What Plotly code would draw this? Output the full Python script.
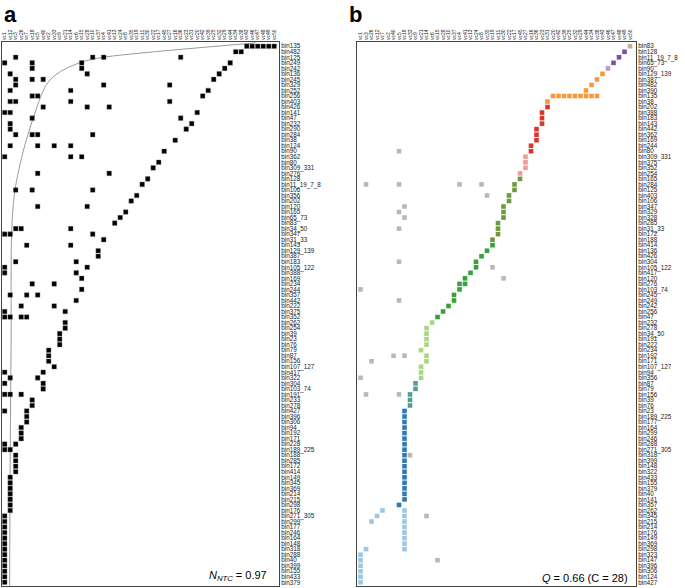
import plotly.graph_objects as go

W, H = 685, 588

# ---------------- data ----------------
rows_a = ["bin135","bin482","bin125","bin249","bin242","bin136","bin245","bin329","bin252","bin256",
          "bin403","bin426","bin141","bin47","bin232","bin290","bin284","bin38","bin124","bin90",
          "bin362","bin80","bin309_331","bin276","bin128","bin11_19_7_8","bin106","bin356","bin202","bin120",
          "bin165","bin65_73","bin83","bin34_50","bin347","bin31_33","bin143","bin129_139","bin387","bin183",
          "bin105_122","bin388","bin169","bin234","bin244","bin357","bin442","bin222","bin375","bin352",
          "bin262","bin254","bin39","bin23","bin76","bin79","bin87","bin156","bin107_127","bin417",
          "bin322","bin304","bin103_74","bin191","bin233","bin278","bin427","bin396","bin306","bin94",
          "bin192","bin171","bin228","bin189_225","bin188","bin285","bin172","bin414","bin149","bin345",
          "bin369","bin214","bin215","bin298","bin176","bin271_305","bin299","bin177","bin246","bin164",
          "bin148","bin318","bin288","bin40","bin399","bin155","bin433","bin379"]

cols_a = ["vc1","vc12","vc3","vc26","vc7","vc18","vc5","vc40","vc2","vc33",
          "vc9","vc21","vc14","vc6","vc15","vc28","vc10","vc37","vc4","vc41",
          "vc13","vc24","vc8","vc35","vc19","vc11","vc30","vc22","vc17","vc45",
          "vc27","vc16","vc36","vc23","vc31","vc20","vc42","vc39","vc25","vc32",
          "vc29","vc44","vc34","vc38","vc43","vc46","vc47","vc48","vc49","vc50"]

# occupied columns (indices into cols_a) for each row of rows_a
occ_a = [[44,45,46,47,48,49],[42,43],[2,16,18,32],[0,5,14,41],[5,14,40],[1,15,39],[2,5,7,38],[2,18,30],
         [1,12,37],[5,6,36],[1,2,12,30],[7,15,19],[0,1,35],[5,32],[1,34],[1,33],[2,5,6,16],[31],
         [1,6,9,12],[29],[0,12,14],[28],[27],[6,19],[26],[25],[2,5,16],[24],[23],[6,15],[22],[21],
         [20],[2,3,12],[0,1,16],[18],[4,12],[17],[17],[2,13],[0,15],[0,13],[14],[5,9],[14],[1,4,6],
         [13],[3,9],[0,11],[0,1,3,4],[11],[11],[10],[10],[10],[8],[8],[8],[9],[0,7],[1,6],[0,7],
         [7],[0,1,3],[5],[5],[0,4],[4],[4],[3],[3],[3],[0,2],[0,1],[2],[2],[2],[2],
         [1],[1],[1],[1],[1],[1],[1],
         [0],[0],[0],[0],[0],[0],[0],[0],[0],[0],[0],[0],[0]]

# isocline (column units, row units)
curve_x = [45.6, 35.0, 25.1, 18.0, 13.6, 9.5, 7.5, 5.1, 3.3, 1.6, 1.15, 0.9]
curve_y = [-0.6, 0.3, 1.2, 2.0, 3.0, 5.0, 7.1, 13.3, 19.3, 28.3, 55.5, 97.6]

rows_b = ["bin83","bin128","bin11_19_7_8","bin65_73","bin90","bin129_139","bin387","bin482","bin390","bin135",
          "bin38","bin202","bin388","bin183","bin143","bin442","bin362","bin169","bin244","bin80",
          "bin309_331","bin375","bin352","bin254","bin165","bin284","bin125","bin403","bin106","bin347",
          "bin329","bin328","bin285","bin31_33","bin172","bin188","bin414","bin136","bin426","bin304",
          "bin105_122","bin417","bin120","bin276","bin103_74","bin245","bin249","bin242","bin256","bin47",
          "bin232","bin278","bin34_50","bin191","bin222","bin234","bin192","bin171","bin107_127","bin94",
          "bin356","bin87","bin79","bin156","bin39","bin76","bin23","bin189_225","bin177","bin164",
          "bin299","bin246","bin288","bin271_305","bin318","bin399","bin148","bin322","bin433","bin155",
          "bin379","bin40","bin141","bin357","bin262","bin345","bin215","bin214","bin176","bin149",
          "bin369","bin298","bin323","bin147","bin396","bin306","bin124","bin427"]

cols_b = ["vc1","vc3","vc26","vc12","vc7","vc2","vc40","vc5","vc18","vc33",
          "vc9","vc21","vc14","vc6","vc15","vc28","vc10","vc37","vc4","vc41",
          "vc13","vc24","vc8","vc35","vc19","vc11","vc30","vc22","vc17","vc45",
          "vc27","vc16","vc36","vc23","vc31","vc20","vc42","vc39","vc25","vc32",
          "vc29","vc44","vc34","vc38","vc43","vc46","vc47","vc48","vc49","vc50"]

# module colour of each row (index into palette) and its occupied columns
mod_b = ([0] + [1] * 3 + [2] + [3] * 6 + [4] * 9 + [5] * 4 + [6] * 12 + [7] * 14 +
         [8] * 11 + [9] * 5 + [10] * 18 + [11] * 14)
occ_b = [[49],[48],[47],[46],[45],[44],[43],[42],[41],[35,36,37,38,39,40,41,42,43],
         [34],[34],[33],[33],[33],[32],[32],[32],[31],[31],
         [30],[30],[30],[29],[29],[28],[28],[27],[27],[26],
         [26],[26],[25],[25],[25],[24],[24],[23],[22],[21],
         [21],[20],[19],[18,19],[18],[17],[17],[16],[15],[14],
         [13],[12],[12],[12],[12],[11],[12],[12],[11],[11],
         [11],[10],[10],[9],[9],[9],[8],[8],[8],[8],
         [8],[8],[8],[8],[8],[8],[8],[8],[8],[8],
         [8],[8],[8],[7],[4,8],[3,8],[2,8],[8],[8],[8],
         [8],[1,8],[0],[0],[0],[0],[0],[0]]
gray_b_row = [19, 25, 25, 25, 25, 27, 29, 30, 31, 33, 39, 40, 42, 44, 46, 56, 56, 57, 60, 63, 63, 74, 85, 93]
gray_b_col = [7, 1, 7, 18, 22, 23, 8, 7, 8, 7, 7, 24, 26, 0, 7, 6, 8, 2, 0, 1, 7, 9, 12, 14]

palette = ["#c2b48c", "#7b4fa8", "#b59ccf", "#f59a3c", "#d9352b", "#f29a98",
           "#6d9a3f", "#36a23a", "#a8d683", "#4f9f98", "#2c7bb6", "#9cc7e3"]

# ---------------- figure ----------------
fig = go.Figure()

px_a = [(c, r) for r, cs in enumerate(occ_a) for c in cs]
fig.add_trace(go.Scatter(x=curve_x, y=curve_y, mode="lines", line=dict(color="#9a9a9a", width=1, shape="spline"),
                         xaxis="x", yaxis="y", hoverinfo="skip", showlegend=False))
fig.add_trace(go.Scatter(x=[p[0] for p in px_a], y=[p[1] for p in px_a], mode="markers",
                         marker=dict(symbol="square", size=4.6, color="black", line=dict(color="#777", width=0.4)),
                         xaxis="x", yaxis="y", showlegend=False))

bx, by, bc = [], [], []
for r, cs in enumerate(occ_b):
    for c in cs:
        bx.append(c); by.append(r); bc.append(palette[mod_b[r]])
fig.add_trace(go.Scatter(x=gray_b_col, y=gray_b_row, mode="markers",
                         marker=dict(symbol="square", size=4.6, color="#b8b8b8"),
                         xaxis="x2", yaxis="y2", showlegend=False))
fig.add_trace(go.Scatter(x=bx, y=by, mode="markers",
                         marker=dict(symbol="square", size=4.6, color=bc),
                         xaxis="x2", yaxis="y2", showlegend=False))

def xd(p0, p1):
    return [p0 / W, p1 / W]

ydom = [1 - 586 / H, 1 - 42 / H]
tickfont_c = dict(family="Liberation Sans, Arial", size=5, color="#222")
tickfont_r = dict(family="Liberation Sans, Arial", size=6.3, color="#222")

axis_common = dict(showgrid=False, zeroline=False, showline=True, mirror=True,
                   linecolor="#444", linewidth=1, ticks="", tickmode="array")

fig.update_layout(
    width=W, height=H, margin=dict(l=0, r=0, t=0, b=0),
    paper_bgcolor="white", plot_bgcolor="white",
    xaxis=dict(domain=xd(1.5, 279), range=[-0.58, 49.87], side="top", anchor="y",
               tickvals=list(range(len(cols_a))), ticktext=cols_a, tickangle=-90,
               tickfont=tickfont_c, **axis_common),
    yaxis=dict(domain=ydom, range=[97.67, -0.77], side="right", anchor="x",
               tickvals=list(range(len(rows_a))), ticktext=rows_a,
               tickfont=tickfont_r, **axis_common),
    xaxis2=dict(domain=xd(357, 636), range=[-0.64, 50.09], side="top", anchor="y2",
                tickvals=list(range(len(cols_b))), ticktext=cols_b, tickangle=-90,
                tickfont=tickfont_c, **axis_common),
    yaxis2=dict(domain=ydom, range=[97.67, -0.77], side="right", anchor="x2",
                tickvals=list(range(len(rows_b))), ticktext=rows_b,
                tickfont=tickfont_r, **axis_common),
    annotations=[
        dict(text="<b>a</b>", x=2 / W, y=1.0, xref="paper", yref="paper", xanchor="left", yanchor="top",
             showarrow=False, font=dict(family="Liberation Sans, Arial", size=22, color="black")),
        dict(text="<b>b</b>", x=347 / W, y=1.0, xref="paper", yref="paper", xanchor="left", yanchor="top",
             showarrow=False, font=dict(family="Liberation Sans, Arial", size=22, color="black")),
        dict(text="<i>N</i><sub><i>NTC</i></sub> = 0.97", x=269 / W, y=1 - 576 / H, xref="paper", yref="paper",
             xanchor="right", yanchor="middle", showarrow=False,
             font=dict(family="Liberation Sans, Arial", size=11, color="black")),
        dict(text="<i>Q</i> = 0.66 (C = 28)", x=630 / W, y=1 - 578 / H, xref="paper", yref="paper",
             xanchor="right", yanchor="middle", showarrow=False,
             font=dict(family="Liberation Sans, Arial", size=11, color="black")),
    ],
)

fig.write_html("out.html", config={"displayModeBar": False},
               post_script="document.body.style.margin='0px';document.body.style.overflow='hidden';")
